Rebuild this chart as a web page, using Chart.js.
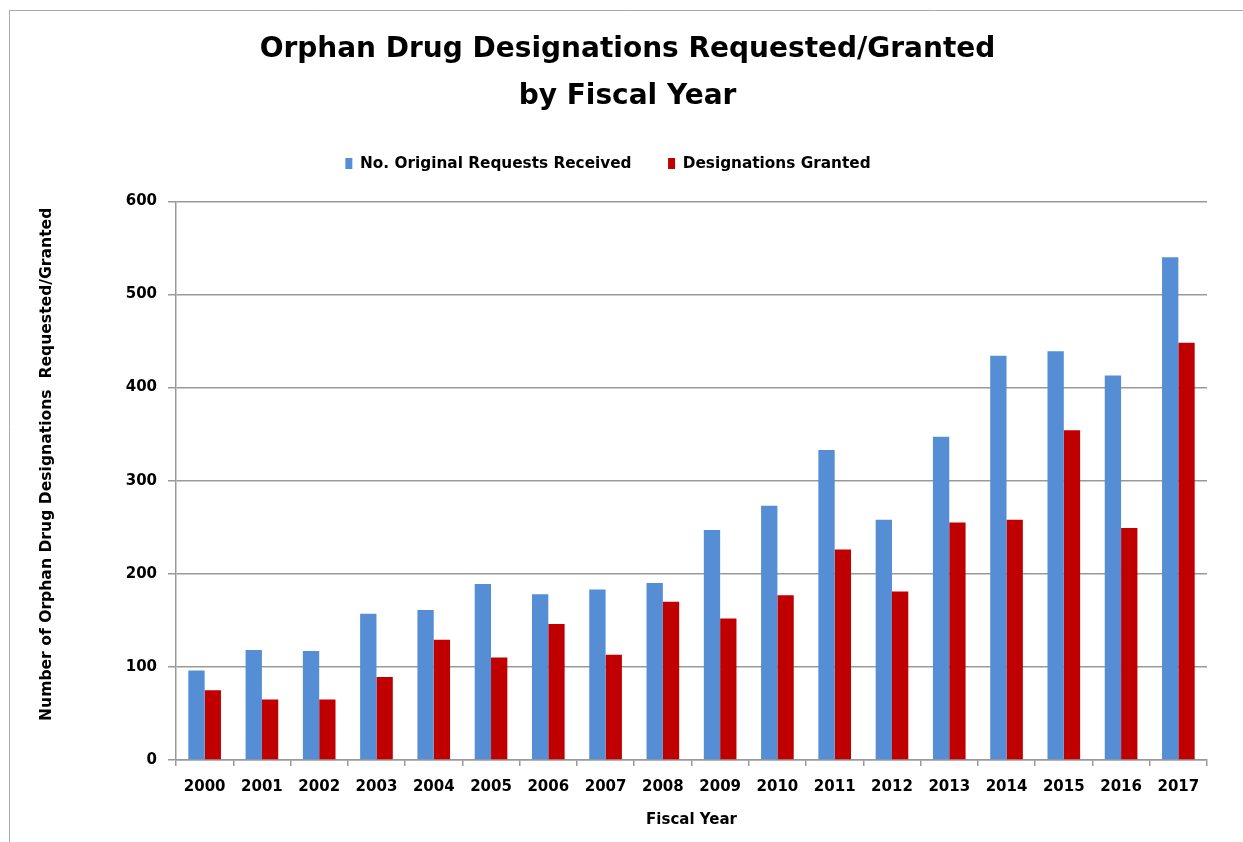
<!DOCTYPE html>
<html lang="en">
<head>
    <meta charset="UTF-8">
    <title>Orphan Drug Designations</title>
    <script src="https://cdn.jsdelivr.net/npm/chart.js"></script>
    <style>
        body { margin: 0; background: #fff; }
        #chart { display: block; }
    </style>
</head>
<body>
    <canvas id="chart" width="1243" height="842"></canvas>

    <script>
        // data
        const years = ['2000', '2001', '2002', '2003', '2004', '2005', '2006', '2007', '2008',
            '2009', '2010', '2011', '2012', '2013', '2014', '2015', '2016', '2017'];
        const requested = [96, 118, 117, 157, 161, 189, 178, 183, 190, 247, 273, 333, 258, 347, 434, 439, 413, 540];
        const granted = [75, 65, 65, 89, 129, 110, 146, 113, 170, 152, 177, 226, 181, 255, 258, 354, 249, 448];
        const yMin = 0, yMax = 600, yStep = 100;

        const FONT = "'DejaVu Sans', sans-serif";
        const gridColor = '#999999';

        // frame lines on top and left, white background
        const framePlugin = {
            id: 'frame',
            beforeDraw(chart) {
                const ctx = chart.ctx;
                ctx.save();
                ctx.fillStyle = '#fff';
                ctx.fillRect(0, 0, chart.width, chart.height);
                ctx.strokeStyle = '#a8a8a8';
                ctx.lineWidth = 1;
                ctx.beginPath();
                ctx.moveTo(9.5, chart.height);
                ctx.lineTo(9.5, 10.5);
                ctx.lineTo(chart.width, 10.5);
                ctx.stroke();
                ctx.restore();
            }
        };

        // extra room under the legend (legend has no afterFit hook, so wrap fit)
        const legendGap = {
            id: 'legendGap',
            beforeLayout(chart) {
                const lg = chart.legend;
                if (lg && !lg._gap) {
                    lg._gap = true;
                    const fit = lg.fit;
                    lg.fit = function () {
                        fit.call(this);
                        this.height += 20;
                    };
                }
            }
        };

        new Chart(document.getElementById('chart'), {
            type: 'bar',
            data: {
                labels: years,
                datasets: [{
                    label: 'No. Original Requests Received',
                    data: requested,
                    backgroundColor: '#558ED5',
                    borderWidth: 0
                }, {
                    label: 'Designations Granted',
                    data: granted,
                    backgroundColor: '#C00000',
                    borderWidth: 0
                }]
            },
            options: {
                responsive: false,
                animation: false,
                categoryPercentage: 0.57,
                barPercentage: 1,
                layout: { padding: { left: 9, right: 36, top: 0, bottom: 0 } },
                plugins: {
                    title: {
                        display: true,
                        text: ['    Orphan Drug Designations Requested/Granted', '    by Fiscal Year'],
                        color: '#000',
                        font: { family: FONT, size: 28, weight: 'bold', lineHeight: 1.66 },
                        padding: { top: 26.5, bottom: 0 }
                    },
                    legend: {
                        position: 'top',
                        labels: {
                            color: '#000',
                            boxWidth: 7,
                            boxHeight: 11,
                            padding: 36.5,
                            font: { family: FONT, size: 15.3, weight: 'bold' }
                        }
                    },
                    tooltip: { enabled: false }
                },
                scales: {
                    x: {
                        afterFit(scale) { scale.height = 82; },
                        grid: {
                            drawOnChartArea: false,
                            offset: true,
                            tickLength: 6,
                            color: gridColor,
                            lineWidth: 1.5
                        },
                        border: { color: gridColor, width: 1.5 },
                        ticks: {
                            color: '#000',
                            padding: 12,
                            maxRotation: 0,
                            font: { family: FONT, size: 15, weight: 'bold' }
                        },
                        title: {
                            display: true,
                            text: 'Fiscal Year',
                            color: '#000',
                            font: { family: FONT, size: 15, weight: 'bold' },
                            padding: { top: 0, bottom: 13 }
                        }
                    },
                    y: {
                        min: yMin,
                        max: yMax,
                        afterFit(scale) { scale.width = 167; },
                        grid: {
                            color: gridColor,
                            lineWidth: 1.5,
                            tickLength: 8
                        },
                        border: { color: gridColor, width: 1.5 },
                        ticks: {
                            stepSize: yStep,
                            color: '#000',
                            padding: 11,
                            font: { family: FONT, size: 15, weight: 'bold' }
                        },
                        title: {
                            display: true,
                            text: '      Number of Orphan Drug Designations  Requested/Granted',
                            color: '#000',
                            font: { family: FONT, size: 15.6, weight: 'bold' },
                            padding: { top: 28.5, bottom: 0 }
                        }
                    }
                }
            },
            plugins: [framePlugin, legendGap]
        });
    </script>
</body>
</html>
